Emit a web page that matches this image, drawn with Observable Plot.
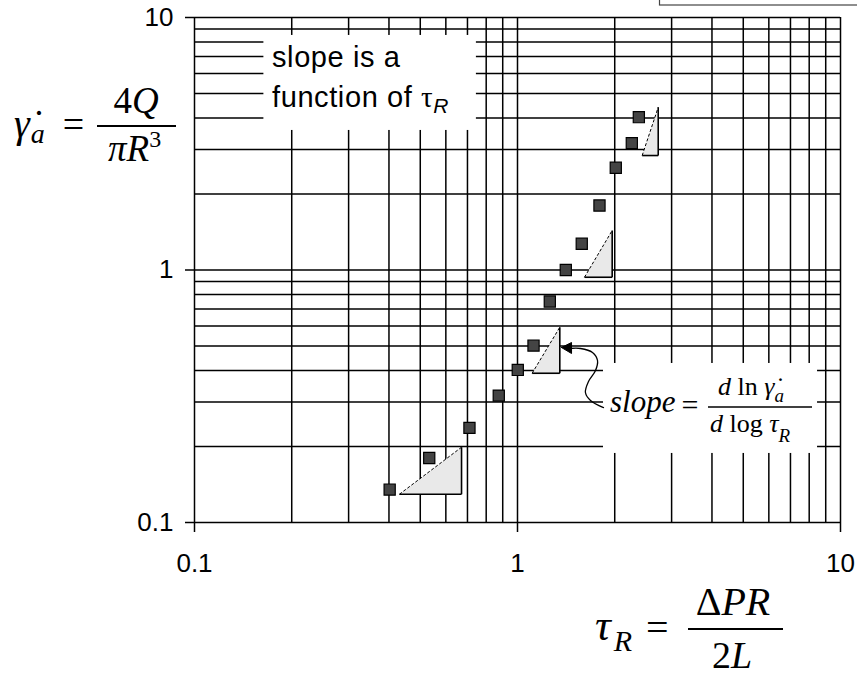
<!DOCTYPE html>
<html>
<head>
<meta charset="utf-8">
<script src="https://cdn.jsdelivr.net/npm/d3@7"></script>
<script src="https://cdn.jsdelivr.net/npm/@observablehq/plot@0.6"></script>
<style>
  body { margin: 0; background: #fff; }
  #chart svg { display: block; }
  #chart g[aria-label$="axis tick"] path { stroke-width: 1.5px; }
</style>
</head>
<body>
<div id="chart"></div>
<script>
// Capillary viscometer data: apparent shear rate vs. wall shear stress (log-log)
const tauR   = [0.402, 0.533, 0.710, 0.875, 1.002, 1.121, 1.259, 1.411, 1.581, 1.794, 2.015, 2.259, 2.375];
const gammaA = [0.135, 0.180, 0.237, 0.318, 0.402, 0.502, 0.750, 1.000, 1.270, 1.800, 2.540, 3.180, 4.030];

// Decade ticks and their labels
const xTicks = [0.1, 1, 10];
const yTicks = [0.1, 1, 10];
const tickLabels = ["0.1", "1", "10"];

// Local-slope triangles: left x, right x, base y, top y
const triX1 = [0.431, 1.110, 1.612, 2.432];
const triX2 = [0.671, 1.352, 1.964, 2.727];
const triY1 = [0.1294, 0.390, 0.936, 2.84];
const triY2 = [0.1987, 0.5935, 1.434, 4.41];

// White label backgrounds (data units)
const boxX1 = [0.164, 1.846];
const boxX2 = [0.746, 8.49];
const boxY1 = [3.57, 0.1877];
const boxY2 = [8.49, 0.4264];

// Curly pointer from the slope formula to the middle triangle
const arrowX = [1.846, 1.683, 1.623, 1.659, 1.744, 1.769, 1.707, 1.567, 1.450];
const arrowY = [0.2853, 0.3042, 0.3272, 0.3618, 0.3999, 0.4381, 0.4714, 0.4888, 0.4888];
const headX = [1.368, 1.470, 1.470, 1.368];
const headY = [0.4932, 0.5163, 0.467, 0.4932];

const points = tauR.map((x, i) => ({x, y: gammaA[i]}));
const tris = triX1.map((x1, i) => ({x1, x2: triX2[i], y1: triY1[i], y2: triY2[i]}));
const triPolys = tris.flatMap((t, id) => [
  {id, x: t.x1, y: t.y1}, {id, x: t.x2, y: t.y1}, {id, x: t.x2, y: t.y2}, {id, x: t.x1, y: t.y1}
]);
const boxes = boxX1.map((x1, i) => ({x1, x2: boxX2[i], y1: boxY1[i], y2: boxY2[i]}));
const arrow = arrowX.map((x, i) => ({x, y: arrowY[i]}));
const head = headX.map((x, i) => ({x, y: headY[i]}));

// every 1–9 subdivision of each decade, as the log scale lays them out
const grid = d3.scaleLog().domain([0.1, 10]).ticks();
const fmt = d => tickLabels[xTicks.indexOf(d)];

const svg = Plot.plot({
  width: 857,
  height: 677,
  marginLeft: 194,
  marginRight: 17,
  marginTop: 17,
  marginBottom: 155,
  style: {fontFamily: "'Liberation Sans', Arial, sans-serif", fontSize: "26px", color: "#000", background: "#fff"},
  x: {type: "log", domain: [0.1, 10], ticks: xTicks, tickFormat: fmt, tickSize: 10, tickPadding: 21, label: null},
  y: {type: "log", domain: [0.1, 10], ticks: yTicks, tickFormat: fmt, tickSize: 9, tickPadding: 12, label: null},
  marks: [
    Plot.ruleX(grid, {stroke: "#000", strokeWidth: 1.5}),
    Plot.ruleY(grid, {stroke: "#000", strokeWidth: 1.5}),
    Plot.rect(boxes, {x1: "x1", x2: "x2", y1: "y1", y2: "y2", fill: "#fff"}),
    Plot.line(triPolys, {x: "x", y: "y", z: "id", fill: "#e9e9e9", stroke: "none"}),
    Plot.link(tris, {x1: "x1", y1: "y1", x2: "x2", y2: "y1", stroke: "#000", strokeWidth: 1.6}),
    Plot.link(tris, {x1: "x2", y1: "y1", x2: "x2", y2: "y2", stroke: "#000", strokeWidth: 1.6}),
    Plot.link(tris, {x1: "x1", y1: "y1", x2: "x2", y2: "y2", stroke: "#000", strokeWidth: 1, strokeDasharray: "3,2"}),
    Plot.line(arrow, {x: "x", y: "y", curve: "catmull-rom", stroke: "#000", strokeWidth: 1.3}),
    Plot.line(head, {x: "x", y: "y", fill: "#000", stroke: "#000", strokeWidth: 1}),
    Plot.dot(points, {x: "x", y: "y", symbol: "square", r: 6.3, fill: "#444", stroke: "#000", strokeWidth: 1.2})
  ]
});

document.getElementById("chart").appendChild(svg);

const root = d3.select(svg);
const serif = "'Liberation Serif', 'Times New Roman', serif";
const sans = "'Liberation Sans', Arial, sans-serif";

// corner of the legend panel that sits above the plot
root.append("rect").attr("x", 659.5).attr("y", -3).attr("width", 230).attr("height", 8)
  .attr("fill", "#fff").attr("stroke", "#444").attr("stroke-width", 1.2);

function label(x, y, runs, {size, family = serif, anchor = "start", spacing = 0} = {}) {
  const t = root.append("text").attr("x", x).attr("y", y)
    .attr("font-family", family).attr("font-size", size)
    .attr("text-anchor", anchor).attr("fill", "#000");
  if (spacing) t.attr("letter-spacing", spacing);
  for (const r of runs) {
    const s = t.append("tspan").text(r.t);
    if (r.i) s.attr("font-style", "italic");
    if (r.size) s.attr("font-size", r.size);
    if (r.dy) s.attr("dy", r.dy);
    if (r.dx) s.attr("dx", r.dx);
    if (r.family) s.attr("font-family", r.family);
  }
  return t;
}
function bar(x1, x2, y, w) {
  root.append("line").attr("x1", x1).attr("x2", x2).attr("y1", y).attr("y2", y)
    .attr("stroke", "#000").attr("stroke-width", w);
}

// y-axis quantity: apparent shear rate
label(14, 137, [{t: "γ\u0307", i: true}, {t: "a", i: true, size: 28, dy: 6, dx: 1}, {t: "=", size: 38, dy: -6, dx: 18}], {size: 40});
bar(97, 176, 126, 1.8);
label(136, 113, [{t: "4"}, {t: "Q", i: true}], {size: 37, anchor: "middle"});
label(108, 161, [{t: "π", i: true}, {t: "R", i: true}, {t: "3", size: 24, dy: -14}], {size: 37});

// x-axis quantity: wall shear stress
label(595, 640, [{t: "τ", i: true}, {t: "R", i: true, size: 30, dy: 11, dx: 3}, {t: "=", size: 40, dy: -10, dx: 14}], {size: 44});
bar(688, 783, 629, 2);
label(733, 615, [{t: "Δ"}, {t: "PR", i: true}], {size: 40, anchor: "middle"});
label(732, 668, [{t: "2"}, {t: "L", i: true}], {size: 38, anchor: "middle"});

// boxed note
label(272, 67, [{t: "slope is a"}], {size: 29, family: sans, spacing: 0.6});
label(272, 107, [{t: "function of "}, {t: "τ", family: serif}, {t: "R", i: true, size: 21, dy: 6}], {size: 29, family: sans, spacing: 0.6});

// slope definition
label(610, 412, [{t: "slope", i: true}, {t: "=", size: 30, dy: 3, dx: 6}], {size: 31});
bar(708, 812, 407, 1.5);
label(718, 395, [{t: "d", i: true}, {t: " ln "}, {t: "γ\u0307", i: true}, {t: "a", i: true, size: 19, dy: 7}], {size: 26});
label(710, 432, [{t: "d", i: true}, {t: " log "}, {t: "τ", i: true}, {t: "R", i: true, size: 19, dy: 10}], {size: 26});
</script>
</body>
</html>
